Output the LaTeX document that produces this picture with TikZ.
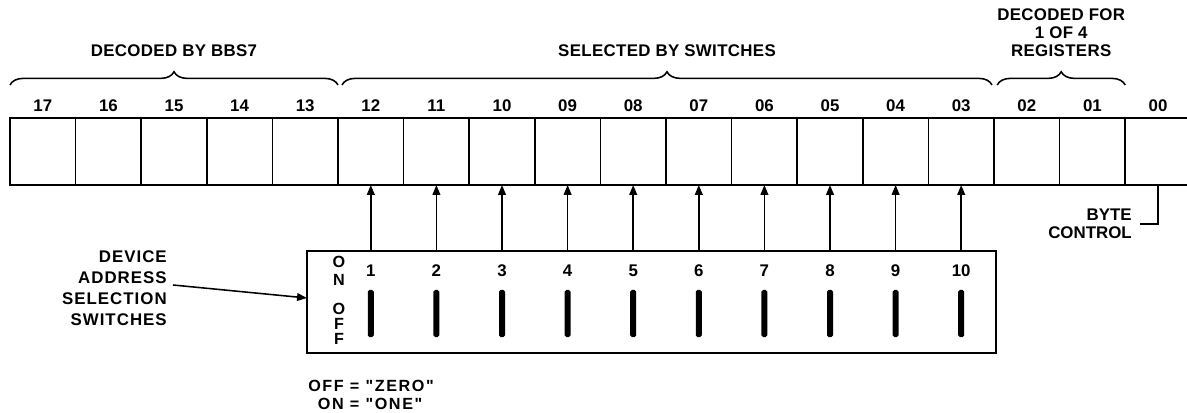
\documentclass[tikz,border=0pt]{standalone}
\usepackage{fontspec}
\setmainfont{Liberation Sans}
\newfontfamily\legfont{Liberation Sans}[Ligatures=TeXOff]
\usepackage{tikz}
\usetikzlibrary{arrows.meta,positioning,calc,decorations.pathreplacing}

\tikzset{
  cell/.style={draw, line width=1.2pt, minimum width=1.64cm, minimum height=1.675cm, inner sep=0pt, outer sep=0pt},
  frame/.style={line width=1.9pt},
  num/.style={font=\bfseries\fontsize{12}{12}\selectfont, inner sep=0pt},
  brc/.style={decorate, decoration={brace, amplitude=0.33cm}, line width=1.1pt},
  brlbl/.style={font=\bfseries\fontsize{12}{12.5}\selectfont\addfontfeatures{LetterSpace=2}, align=center, inner sep=0pt},
  swbox/.style={draw, line width=1.9pt, minimum width=17.225cm, minimum height=2.55cm, inner sep=0pt, outer sep=0pt},
  bar/.style={fill, rounded corners=1.2pt, minimum width=0.15cm, minimum height=1.175cm, inner sep=0pt},
  arr/.style={-{Triangle[length=7pt,width=5.5pt]}, line width=1.1pt},
  lbl/.style={font=\bfseries\fontsize{12}{15}\selectfont\addfontfeatures{LetterSpace=6}, inner sep=0pt}
}

\begin{document}
\begin{tikzpicture}[x=0.025cm, y=-0.025cm]
    \useasboundingbox (0,0) rectangle (1187,413);
    % Register cells
    \foreach \n [count=\i from 0] in {17,16,15,14,13,12,11,10,09,08,07,06,05,04,03,02,01} {
      \node[cell] (c\n) at ({42.8+65.6*\i},151.5) {};
      \node[num, above=0.15cm of c\n] (n\n) {\n};
    }
    \node[cell, draw=none, right=0pt of c01] (c00) {};
    \node[num, above=0.15cm of c00] (n00) {00};
    \draw[frame] (c00.north east) -- (c17.north west) -- (c17.south west) -- (c00.south east);
    % Braces
    \draw[brc] ([yshift=0.825cm]c17.north west) -- ([yshift=0.825cm]c13.north east)
      node[brlbl, midway, above=0.7cm] (bbs) {DECODED BY BBS7};
    \draw[brc] ([xshift=0.1cm,yshift=0.825cm]c12.north west) -- ([xshift=-0.05cm,yshift=0.825cm]c03.north east)
      node[brlbl, midway, above=0.7cm] (sel) {SELECTED BY SWITCHES};
    \draw[brc] ([xshift=0.08cm,yshift=0.825cm]c02.north west) -- ([yshift=0.825cm]c01.north east)
      node[brlbl, midway, above=0.7cm] (reg) {DECODED FOR\\1 OF 4\\REGISTERS};
    % Switch box
    \node[swbox] (sw) at (651.5,302) {};
    \node[font=\bfseries\fontsize{11.5}{12.5}\selectfont, align=center, inner sep=0pt] (on) at (339,271) {O\\N};
    \node[font=\bfseries\fontsize{11.5}{10.5}\selectfont, align=center, inner sep=0pt] (off) at (339,324) {O\\F\\F};
    \foreach \n/\k in {12/1,11/2,10/3,09/4,08/5,07/6,06/7,05/8,04/9,03/10} {
      \node[num] (k\k) at ([yshift=-0.5cm]sw.north -| c\n) {\k};
      \node[bar] (b\k) at ([yshift=-1.5625cm]sw.north -| c\n) {};
      \draw[arr] (sw.north -| c\n) -- (c\n.south);
    }
    % Device label
    \node[lbl, align=right, anchor=east] (dev) at (167,288) {DEVICE\\ADDRESS\\SELECTION\\SWITCHES};
    \draw[arr] ([xshift=0.15cm,yshift=0.075cm]dev.east) -- ([yshift=0.1cm]sw.west);
    % Legend
    \node[anchor=north west, inner sep=0pt, font=\legfont\bfseries\fontsize{11.5}{13}\selectfont\addfontfeatures{LetterSpace=10}] (leg) at (308,378)
      {\begin{tabular}{@{}r@{\ =\ }l@{}}OFF & "ZERO"\\ON & "ONE"\end{tabular}};
    % Byte control
    \node[lbl, align=right, anchor=east, font=\bfseries\fontsize{12}{13}\selectfont] (byte) at (1132,224) {BYTE\\CONTROL};
    \draw[line width=1pt] (c00.south) |- ([xshift=0.2cm]byte.east);
\end{tikzpicture}
\end{document}
